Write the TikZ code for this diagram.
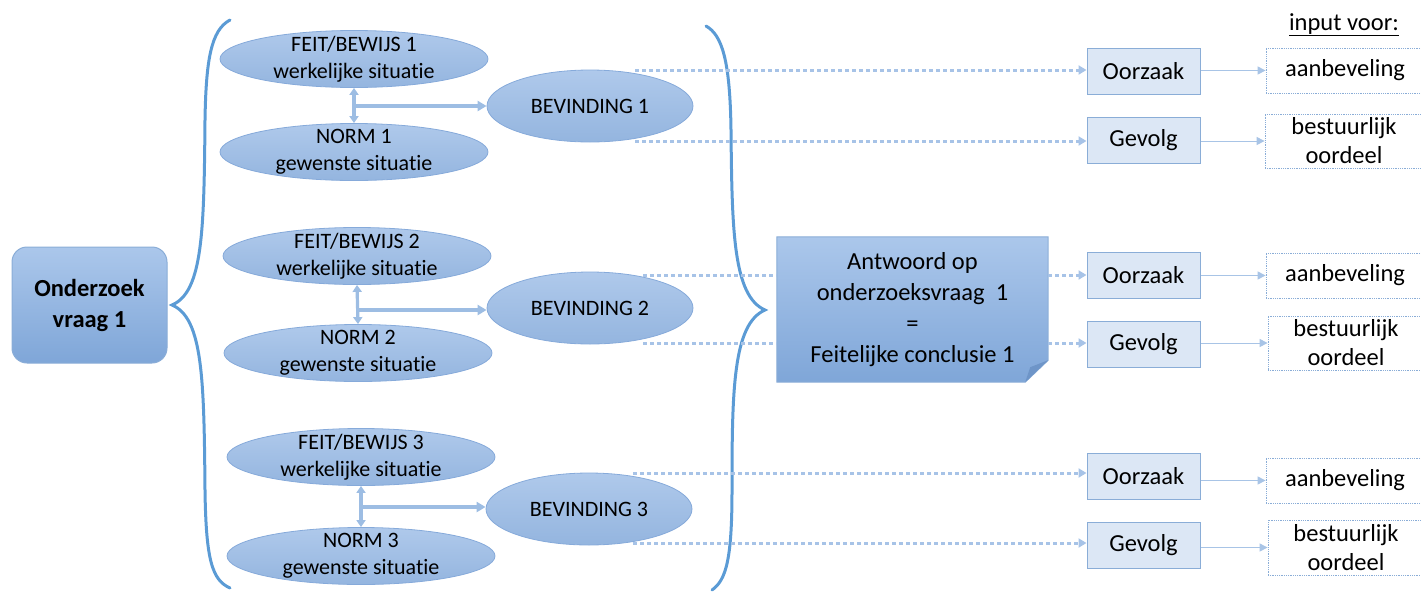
\documentclass[tikz,border=0pt]{standalone}
\usepackage{fontspec}
\setmainfont{Carlito}[Ligatures=NoCommon]
\usetikzlibrary{shapes.geometric,arrows.meta,calc}
\definecolor{bracec}{HTML}{5B9BD5}
\definecolor{elltop}{HTML}{AFC9EB}
\definecolor{ellbot}{HTML}{94B5DF}
\definecolor{ellborder}{HTML}{86AADA}
\definecolor{anttop}{HTML}{ABC7EB}
\definecolor{antbot}{HTML}{7FA6D8}
\definecolor{arrowc}{HTML}{9DBDE3}
\definecolor{dotc}{HTML}{A7C3E7}
\definecolor{boxfill}{HTML}{DCE7F5}
\definecolor{boxborder}{HTML}{8AADD7}
\definecolor{thinc}{HTML}{A8C4E6}
\definecolor{foldc}{HTML}{6E95C8}
\pgfdeclarelayer{back}
\pgfsetlayers{back,main}
\begin{document}
\begin{tikzpicture}[x=1pt,y=-1pt,
  ell/.style={ellipse, draw=ellborder, line width=0.8pt, top color=elltop, bottom color=ellbot,
    inner sep=0pt, minimum width=268pt, minimum height=57pt},
  bev/.style={ell, minimum width=206pt, minimum height=72pt},
  etxt/.style={align=center, inner sep=0pt, font=\fontsize{22}{27}\selectfont},
  brace/.style={draw=bracec, line width=3pt, line cap=round},
  dblarrow/.style={draw=arrowc, line width=3.2pt, {Triangle[length=7pt,width=9pt]}-{Triangle[length=7pt,width=9pt]}},
  harrow/.style={draw=arrowc, line width=3.2pt, -{Triangle[length=9pt,width=10pt]}},
  dotarrow/.style={draw=dotc, line width=3pt, dash pattern=on 3.5pt off 3.5pt, -{Triangle[length=8pt,width=9pt]}},
  dotline/.style={draw=dotc, line width=3pt, dash pattern=on 3.5pt off 3.5pt},
  thinarrow/.style={draw=thinc, line width=1pt, -{Triangle[length=8pt,width=8pt]}},
  cbox/.style={draw=boxborder, line width=1pt, fill=boxfill, minimum width=113pt, minimum height=46pt,
    inner sep=0pt, font=\fontsize{24.5}{29}\selectfont},
  obox/.style={draw=boxborder, line width=0.8pt, densely dotted, fill=white, minimum width=158pt, minimum height=45pt,
    inner sep=0pt, align=center, font=\fontsize{24.5}{29}\selectfont},
  onbox/.style={draw=boxborder, line width=1pt, rounded corners=15pt, top color=anttop, bottom color=antbot,
    minimum width=155pt, minimum height=116pt, align=center, inner sep=0pt,
    font=\fontsize{24.5}{31}\selectfont\bfseries}
]
\useasboundingbox (0,0) rectangle (1421,592);

% left box
\node[onbox] (ov) at (89.5,305) {Onderzoek\\vraag 1};

% braces
\draw[brace] (230,20) .. controls (211,30) and (206,60) .. (205,120)
  .. controls (204,230) and (203,292) .. (172,305)
  .. controls (203,318) and (204,380) .. (205,490)
  .. controls (206,560) and (212,580) .. (230,588);
\draw[brace] (706,26) .. controls (722,35) and (730,60) .. (731,130)
  .. controls (732,230) and (733,296) .. (765,310)
  .. controls (733,324) and (732,390) .. (732,490)
  .. controls (732,560) and (726,580) .. (712,590);

% ellipses
\node[ell] (f1) at (354,59) {};
\node[etxt] (f1t) at (f1) {FEIT/BEWIJS 1\\werkelijke situatie};
\node[ell] (n1) at (354,152) {};
\node[etxt] (n1t) at (n1) {NORM 1\\gewenste situatie};
\node[bev] (b1) at (590,106) {};
\node[etxt] (b1t) at (b1) {BEVINDING 1};

\node[ell] (f2) at (357,256) {};
\node[etxt] (f2t) at (f2) {FEIT/BEWIJS 2\\werkelijke situatie};
\node[ell] (n2) at (358,353) {};
\node[etxt] (n2t) at (n2) {NORM 2\\gewenste situatie};
\node[bev] (b2) at (590,308) {};
\node[etxt] (b2t) at (b2) {BEVINDING 2};

\node[ell] (f3) at (361,457) {};
\node[etxt] (f3t) at (f3) {FEIT/BEWIJS 3\\werkelijke situatie};
\node[ell] (n3) at (361,556) {};
\node[etxt] (n3t) at (n3) {NORM 3\\gewenste situatie};
\node[bev] (b3) at (589,509) {};
\node[etxt] (b3t) at (b3) {BEVINDING 3};

% inner arrows
\draw[dblarrow] (f1.south) -- (n1.north);
\draw[harrow] (f1.south |- b1.west) -- (b1.west);
\draw[dblarrow] (f2.south) -- (n2.north);
\draw[harrow] (f2.south |- 0,310) -- (b2.west |- 0,310);
\draw[dblarrow] (f3.south) -- (n3.north);
\draw[harrow] (f3.south |- 0,507) -- (b3.west |- 0,507);

% answer box
\node[align=center, inner sep=0pt, minimum width=271pt, minimum height=145pt,
  font=\fontsize{24.5}{31}\selectfont] (ant) at (912.5,309.5)
  {Antwoord op\\onderzoeksvraag\ \ 1\\=\\Feitelijke conclusie 1};
\begin{pgfonlayer}{back}
\path[draw=boxborder, line width=1pt, top color=anttop, bottom color=antbot]
  (ant.north west) -- (ant.north east) -- ($(ant.south east)+(0,-22)$)
  -- ($(ant.south east)+(-23,0)$) -- (ant.south west) -- cycle;
\fill[foldc] ($(ant.south east)+(0,-22)$) -- ($(ant.south east)+(-23,0)$)
  -- ($(ant.south east)+(-18,-15)$) -- cycle;
\end{pgfonlayer}

% right boxes
\node[font=\fontsize{24.5}{29}\selectfont, inner sep=0pt, anchor=base] (iv) at (1344,30) {\underline{input voor:}};

\node[cbox] (o1) at (1143.5,71) {Oorzaak};
\node[cbox] (g1) at (1143.5,140.5) {Gevolg};
\node[obox] (a1) at (1345,70.5) {aanbeveling};
\node[obox, minimum height=54pt] (s1) at (1344,141) {bestuurlijk\\oordeel};

\node[cbox] (o2) at (1143.5,275) {Oorzaak};
\node[cbox] (g2) at (1143.5,344) {Gevolg};
\node[obox] (a2) at (1345,275.5) {aanbeveling};
\node[obox, minimum height=54pt, minimum width=156pt] (s2) at (1346,343) {bestuurlijk\\oordeel};

\node[cbox] (o3) at (1143.5,476) {Oorzaak};
\node[cbox] (g3) at (1143.5,545) {Gevolg};
\node[obox] (a3) at (1345,480.5) {aanbeveling};
\node[obox, minimum height=55pt, minimum width=156pt] (s3) at (1346,547.5) {bestuurlijk\\oordeel};

% dotted connectors
\coordinate (d1a) at (635,70);
\coordinate (d1b) at (635,141);
\coordinate (d2a) at (643,275);
\coordinate (d2b) at (643,343);
\coordinate (d3a) at (633,473);
\coordinate (d3b) at (633,543);
\draw[dotarrow] (d1a) -- (d1a -| o1.west);
\draw[dotarrow] (d1b) -- (d1b -| g1.west);
\draw[dotline] (d2a) -- (d2a -| ant.west);
\draw[dotline] (d2b) -- (d2b -| ant.west);
\draw[dotarrow] (d2a -| ant.east) -- (d2a -| o2.west);
\draw[dotarrow] (d2b -| ant.east) -- (d2b -| g2.west);
\draw[dotarrow] (d3a) -- (d3a -| o3.west);
\draw[dotarrow] (d3b) -- (d3b -| g3.west);

% thin arrows
\draw[thinarrow] (o1.east |- a1.west) -- (a1.west);
\draw[thinarrow] (g1.east |- s1.west) -- (s1.west);
\draw[thinarrow] (o2.east |- a2.west) -- (a2.west);
\draw[thinarrow] (g2.east |- s2.west) -- (s2.west);
\draw[thinarrow] (o3.east |- a3.west) -- (a3.west);
\draw[thinarrow] (g3.east |- s3.west) -- (s3.west);
\end{tikzpicture}
\end{document}
